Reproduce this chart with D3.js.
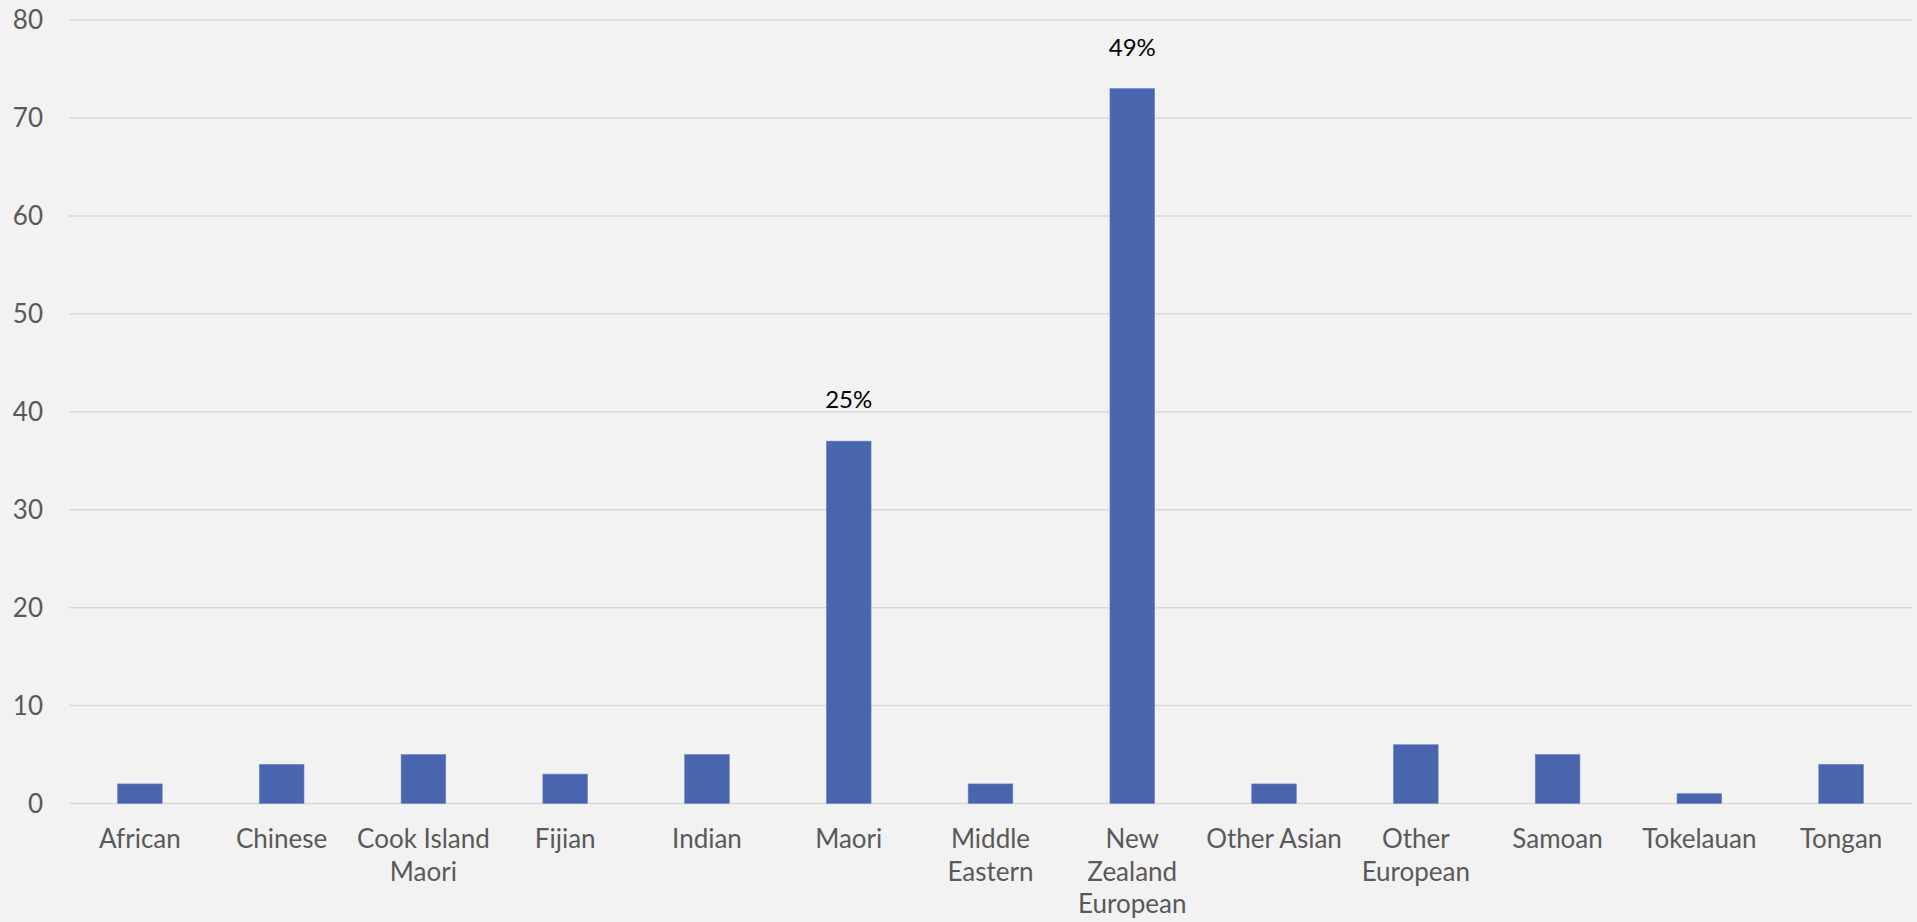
<!doctype html>
<html>
  <head>
    <script src="https://cdnjs.cloudflare.com/ajax/libs/d3/7.8.5/d3.min.js"></script>
    <style>
      body { margin: 0; background: #f2f2f2; }
      svg { display: block; background: #f2f2f2; }
      text { font-family: Lato, "Open Sans", sans-serif; }
      .grid line { stroke: #d9d9d9; stroke-width: 1.5; }
      .tick-label { fill: #595959; font-size: 26px; }
      .cat-label { fill: #595959; font-size: 26px; }
      .data-label { fill: #000; font-size: 24px; }
      rect.bar { fill: #4865ad; stroke: #6d86c0; stroke-width: 0.6; }
    </style>
  </head>
  <body>
    <svg width="1917" height="922"></svg>
    <script>
      // data
      var categories = ["African", "Chinese", "Cook Island Maori", "Fijian", "Indian", "Maori",
        "Middle Eastern", "New Zealand European", "Other Asian", "Other European", "Samoan",
        "Tokelauan", "Tongan"];
      var categoryLines = [["African"], ["Chinese"], ["Cook Island", "Maori"], ["Fijian"], ["Indian"],
        ["Maori"], ["Middle", "Eastern"], ["New", "Zealand", "European"], ["Other Asian"],
        ["Other", "European"], ["Samoan"], ["Tokelauan"], ["Tongan"]];
      var values = [2, 4, 5, 3, 5, 37, 2, 73, 2, 6, 5, 1, 4];
      var dataLabels = ["", "", "", "", "", "25%", "", "49%", "", "", "", "", ""];
      var yTicks = [0, 10, 20, 30, 40, 50, 60, 70, 80];

      var svg = d3.select("svg");
      var plotLeft = 69, plotRight = 1912, plotTop = 20, plotBottom = 803.5;

      var x = d3.scaleBand()
        .domain(categories)
        .range([plotLeft, plotRight])
        .paddingInner(0.685)
        .paddingOuter(0.3425);

      var y = d3.scaleLinear()
        .domain([0, 80])
        .range([plotBottom, plotTop]);

      svg.append("g").attr("class", "grid")
        .selectAll("line").data(yTicks)
        .enter().append("line")
          .attr("x1", plotLeft).attr("x2", plotRight)
          .attr("y1", d => y(d)).attr("y2", d => y(d));

      svg.append("g").selectAll("text").data(yTicks)
        .enter().append("text")
          .attr("class", "tick-label")
          .attr("x", 43)
          .attr("y", d => y(d))
          .attr("dy", "0.35em")
          .attr("text-anchor", "end")
          .text(d => d);

      svg.append("g").selectAll("rect").data(values)
        .enter().append("rect")
          .attr("class", "bar")
          .attr("x", (d, i) => x(categories[i]))
          .attr("width", x.bandwidth())
          .attr("y", d => y(d))
          .attr("height", d => y(0) - y(d));

      svg.append("g").selectAll("text").data(dataLabels)
        .enter().append("text")
          .attr("class", "data-label")
          .attr("x", (d, i) => x(categories[i]) + x.bandwidth() / 2)
          .attr("y", (d, i) => y(values[i]) - 33)
          .attr("text-anchor", "middle")
          .text(d => d);

      var cat = svg.append("g").selectAll("text").data(categoryLines)
        .enter().append("text")
          .attr("class", "cat-label")
          .attr("text-anchor", "middle")
          .attr("transform", (d, i) => "translate(" + (x(categories[i]) + x.bandwidth() / 2) + ",848)");

      cat.selectAll("tspan").data(d => d)
        .enter().append("tspan")
          .attr("x", 0)
          .attr("y", (d, i) => i * 32.7)
          .text(d => d);
    </script>
  </body>
</html>
